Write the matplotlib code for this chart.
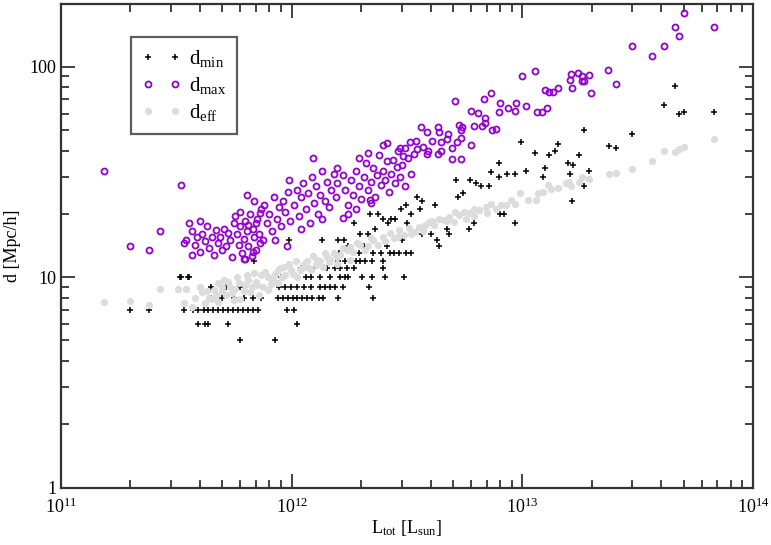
import numpy as np
import matplotlib
matplotlib.use('Agg')
import matplotlib.pyplot as plt
from matplotlib.ticker import LogLocator, FuncFormatter, NullFormatter

plt.rcParams['font.family'] = ['Liberation Serif', 'DejaVu Serif']
plt.rcParams['mathtext.fontset'] = 'custom'
plt.rcParams['mathtext.rm'] = 'Liberation Serif'
plt.rcParams['mathtext.it'] = 'Liberation Serif:italic'

# luminosities in units of 1e12 L_sun, distances in Mpc/h
Lmax = [0.154, 0.20, 0.24, 0.27, 0.33, 0.34, 0.36, 0.37, 0.39, 0.40,
        0.35, 0.37, 0.38, 0.40, 0.41, 0.42, 0.43, 0.44, 0.45, 0.46, 0.47, 0.48, 0.49, 0.50,
        0.51, 0.52, 0.53, 0.54, 0.55, 0.56,
        0.57, 0.58, 0.59, 0.60, 0.61, 0.62, 0.63, 0.64, 0.65, 0.66, 0.67, 0.68, 0.69, 0.70,
        0.71, 0.72, 0.73, 0.74, 0.60, 0.65, 0.70, 0.75, 0.62, 0.68,
        0.76, 0.78, 0.80, 0.82, 0.84, 0.86, 0.88, 0.90, 0.92, 0.94, 0.96, 0.98, 0.85, 0.95,
        0.97, 0.64, 0.69, 0.73, 0.63,
        1.02, 1.05, 1.08, 1.10, 1.12, 1.15, 1.18, 1.20, 1.22, 1.25, 1.28, 1.30, 1.33, 1.36,
        1.39, 1.42, 1.45, 1.48, 1.52, 1.55, 1.58, 1.24, 1.57, 1.67, 1.10, 1.35, 1.67,
        1.70, 1.75, 1.80, 1.85, 1.90, 1.95, 2.00, 2.05, 2.10, 2.15, 2.20, 2.25, 2.30, 2.35,
        2.40, 2.45, 2.50, 2.55, 2.60, 2.65, 2.70, 2.75, 2.80, 2.85, 2.90, 2.95, 3.00, 3.05,
        3.10, 3.20, 3.25, 3.30, 3.40, 3.45, 2.58, 2.48, 2.95, 3.10, 1.90, 2.20, 1.75, 2.18,
        1.95, 2.15,
        3.65, 3.85, 4.30, 4.35, 4.75, 4.70, 5.20, 5.40, 4.45, 4.05, 6.00, 3.70, 3.90, 3.50,
        4.45, 4.95, 4.30, 4.95, 5.45, 3.85,
        5.10, 6.00, 6.40, 6.90, 6.90, 6.15, 6.70, 7.40, 7.70, 5.30, 5.50, 5.40, 7.35, 6.85,
        8.00, 9.40, 10.4, 8.70, 7.95, 9.30, 11.6, 12.2, 12.8, 10.0, 11.4, 12.6, 13.1, 13.6,
        14.3, 16.1, 16.4, 16.2, 17.4, 18.2, 18.2, 19.5, 18.5, 19.8, 23.5, 25.5, 30.0, 36.5,
        41.0, 46.0, 48.0, 50.0, 68.0]
dmax = [32.0, 14.0, 13.5, 16.5, 27.5, 14.5, 18.0, 12.8, 15.5, 18.5,
        15.0, 16.5, 14.2, 13.2, 16.0, 14.8, 17.5, 13.8, 15.6, 12.8, 16.8, 14.5, 15.5, 13.5,
        17.0, 14.0, 16.2, 15.0, 12.5, 18.0,
        19.5, 16.0, 14.3, 17.5, 13.0, 15.2, 18.5, 16.5, 14.0, 20.0, 12.6, 17.0, 15.5, 13.5,
        19.0, 16.0, 14.5, 21.0, 20.5, 17.8, 18.0, 15.0, 12.2, 13.2,
        22.0, 18.0, 20.0, 16.5, 24.0, 19.0, 21.5, 17.5, 23.0, 20.5, 25.5, 18.5, 15.0, 14.0,
        29.0, 24.6, 23.0, 20.2, 12.2,
        22.0, 26.0, 19.5, 24.0, 28.0, 21.0, 25.0, 18.0, 30.0, 22.5, 27.0, 20.0, 24.5, 32.0,
        23.0, 28.5, 21.5, 26.0, 31.0, 24.0, 28.0, 36.8, 33.0, 30.5, 17.0, 19.0, 19.1,
        26.0, 22.0, 29.0, 24.5, 32.0, 27.0, 23.5, 30.0, 35.0, 26.0, 28.5, 33.0, 24.0, 30.5,
        38.0, 27.5, 32.0, 29.0, 35.5, 25.5, 31.0, 36.0, 28.0, 33.5, 40.0, 30.0, 34.0, 37.5,
        27.0, 36.8, 44.0, 31.0, 38.5, 44.5, 43.5, 42.5, 41.0, 41.0, 21.0, 22.5, 20.0, 23.2,
        37.0, 39.0,
        51.5, 49.0, 51.5, 49.0, 48.0, 45.5, 44.0, 46.0, 44.0, 44.5, 42.5, 41.5, 40.0, 40.5,
        40.0, 41.0, 38.5, 36.5, 36.5, 38.5,
        68.5, 62.0, 60.5, 57.0, 54.0, 52.5, 52.5, 50.0, 50.5, 53.0, 52.0, 50.0, 75.0, 70.0,
        67.5, 67.5, 65.0, 64.0, 61.0, 61.5, 61.0, 61.0, 64.0, 90.0, 96.0, 78.0, 76.0, 76.0,
        79.0, 87.0, 79.0, 92.0, 93.0, 90.0, 86.0, 91.0, 86.0, 75.5, 97.0, 83.0, 126.0, 113.0,
        126.0, 155.0, 140.0, 180.0, 155.0]

Lmin = [0.20, 0.24, 0.33, 0.36, 0.34,
        # d = 10
        0.327, 0.354, 1.06, 1.15, 1.21, 1.33, 1.47, 1.62, 1.70, 1.76, 2.02, 2.23, 2.53, 3.08,
        0.80, 0.90,
        # d = 9
        0.445, 0.88, 0.94, 0.99, 1.05, 1.13, 1.21, 1.33, 1.40, 1.47, 1.54, 1.67, 2.16,
        0.52, 0.60, 0.75,
        # d = 8
        0.445, 0.736, 0.87, 0.915, 0.96, 1.01, 1.06, 1.11, 1.17, 1.23, 1.31, 1.37, 1.59, 2.25,
        0.50, 0.56, 0.62, 0.68,
        # d = 7
        0.375, 0.394, 0.415, 0.436, 0.458, 0.48, 0.505, 0.53, 0.557, 0.585, 0.616, 0.647,
        0.68, 0.715, 0.95, 1.02,
        # d = 6
        0.394, 0.42, 0.436, 0.53, 1.06,
        # d = 5
        0.60, 0.85,
        # d = 11
        1.42, 1.54, 1.62, 1.74, 1.86, 2.48, 1.10, 1.25,
        # d = 12
        0.69, 1.59, 1.70, 1.79, 1.90, 1.98, 2.08, 2.23, 2.48, 1.30, 1.45,
        # d = 13
        2.25, 2.45, 2.66, 2.79, 2.93, 3.13, 3.30, 1.60, 1.95,
        # d = 14 .. 25
        4.36, 1.75, 2.05, 2.60,
        0.97, 1.36, 1.59, 1.69, 4.27, 3.00,
        1.98, 2.14, 3.68, 4.03, 4.81, 4.72, 5.86, 2.30,
        1.86, 2.61, 3.16, 6.15, 9.3, 2.48, 2.69, 2.80, 2.18, 2.37, 3.30, 8.0, 8.3,
        2.99, 3.60, 3.13, 4.19, 3.51, 5.26, 5.52, 3.68,
        # upper part
        5.15, 5.92, 6.33, 6.65, 7.14, 7.35, 7.96, 7.96, 8.55, 9.3, 9.9, 10.4, 11.3, 12.3,
        12.6, 13.0, 13.9, 14.3, 15.8, 16.6, 17.6, 18.5, 19.5, 18.5, 16.4, 16.1,
        23.8, 25.5, 30.0, 41.0, 46.0, 48.0, 50.0, 68.0]
dmin = [7, 7, 10, 10, 7,
        10, 10, 10, 10, 10, 10, 10, 10, 10, 10, 10, 10, 10, 10,
        10, 10,
        9, 9, 9, 9, 9, 9, 9, 9, 9, 9, 9, 9, 9,
        9, 9, 9,
        8, 8, 8, 8, 8, 8, 8, 8, 8, 8, 8, 8, 8, 8,
        8, 8, 8, 8,
        7, 7, 7, 7, 7, 7, 7, 7, 7, 7, 7, 7,
        7, 7, 7, 7,
        6, 6, 6, 6, 6,
        5, 5,
        11, 11, 11, 11, 11, 11, 11, 11,
        12, 12, 12, 12, 12, 12, 12, 12, 12, 12, 12,
        13, 13, 13, 13, 13, 13, 13, 13, 13,
        14, 14, 14, 14,
        15, 15, 15, 15, 15, 15,
        16, 16, 16, 16, 16, 17, 17, 17,
        18, 18, 18, 18, 18, 19, 19, 19, 20, 20, 20, 20, 20,
        21, 21, 22, 22, 24, 24, 25, 23,
        29, 29, 28, 27, 27, 31.5, 35, 30, 31, 31, 44, 32, 39, 30,
        33, 38, 40, 43, 35, 34, 38, 50, 32, 27, 23, 31,
        42, 41, 48, 66, 81, 60, 61, 61]

Leff = [0.154, 0.20, 0.24, 0.27, 0.32, 0.35, 0.34,
        0.37, 0.38, 0.41, 0.42, 0.44, 0.46, 0.48, 0.48, 0.53, 0.55, 0.56, 0.58, 0.60, 0.65,
        0.67, 0.72, 0.74, 0.79, 0.79, 0.87, 0.87, 0.93, 0.99, 1.06, 1.13, 1.21, 1.29, 1.37,
        1.42, 1.57, 1.57, 1.74, 1.79,
        0.50, 0.63, 0.70, 0.83, 0.94, 1.09, 1.27, 1.47, 0.52, 0.45,
        0.40, 0.43, 0.47, 0.50, 0.51, 0.54, 0.57, 0.59, 0.62, 0.64, 0.66, 0.69, 0.71, 0.75,
        0.77, 0.81, 0.85, 0.89, 0.91, 0.97, 1.01, 1.04, 1.11, 1.16, 1.19, 1.24, 1.33, 1.39,
        1.45, 1.52, 1.62, 1.67, 1.85, 1.92, 2.15, 2.20, 2.55, 2.90, 3.30, 3.70, 4.05, 4.70,
        5.10, 5.70, 6.20, 7.00,
        1.79, 1.98, 2.25, 2.48, 2.66, 2.93, 3.24, 3.58, 3.95, 4.36, 4.81, 5.31, 5.86, 6.47,
        6.94, 7.35, 7.7, 8.1, 8.9, 9.8, 10.6, 11.5, 11.7, 12.3, 12.9, 13.3,
        2.08, 2.37, 2.79, 3.08, 3.41, 3.77, 4.15, 4.57, 5.04, 5.58, 6.15, 8.5, 9.3,
        14.3, 16.0, 16.2, 17.6, 18.2, 19.5, 23.8, 25.5, 30.0, 36.5, 41.0, 46.0, 48.0, 50.0,
        68.0, 15.5]
deff = [7.6, 7.7, 7.4, 8.8, 8.8, 8.8, 7.5,
        7.2, 8.0, 8.5, 7.5, 8.0, 8.7, 9.4, 7.6, 9.5, 8.4, 7.8, 10.0, 7.9, 9.7,
        9.0, 8.2, 10.2, 10.0, 8.7, 10.8, 9.4, 11.2, 10.8, 10.0, 11.6, 10.8, 12.1, 11.2,
        12.5, 12.5, 11.6, 13.5, 12.1,
        9.0, 9.2, 9.5, 9.7, 10.2, 10.8, 11.4, 12.1, 8.2, 7.9,
        9.0, 8.6, 8.2, 8.6, 9.7, 9.0, 8.8, 9.4, 8.6, 10.2, 8.5, 10.5, 9.2, 9.0,
        10.6, 9.3, 10.4, 11.0, 10.0, 11.5, 10.4, 11.9, 11.0, 12.0, 11.1, 12.6, 11.9, 13.0,
        11.8, 13.0, 12.8, 13.8, 13.2, 14.6, 14.0, 15.4, 14.8, 15.5, 16.0, 16.6, 18.5, 18.4,
        20.5, 19.0, 21.0, 20.3,
        13.9, 14.2, 15.0, 15.5, 16.2, 16.7, 17.1, 17.3, 18.2, 19.0, 19.3, 19.7, 20.2, 20.9,
        21.5, 22.4, 21.2, 22.0, 23.4, 25.0, 23.4, 23.4, 25.0, 25.3, 27.4, 26.3,
        13.5, 14.2, 15.3, 15.8, 16.4, 17.7, 17.7, 18.6, 18.2, 20.4, 19.5, 22.0, 22.4,
        26.5, 28.3, 27.0, 28.3, 30.0, 29.3, 31.0, 31.4, 32.6, 35.7, 39.8, 39.3, 40.8, 41.5,
        45.6, 28.0]

fig = plt.figure(figsize=(7.71, 5.45), dpi=100)
ax = fig.add_axes([0.0791, 0.1055, 0.8975, 0.888])

ax.plot(np.array(Lmin) * 1e12, dmin, ls='none', marker='+', ms=5, mew=1.1,
        color='black', label=r'd$_{\rm min}$')
ax.plot(np.array(Lmax) * 1e12, dmax, ls='none', marker='o', ms=4.3, mew=1.3,
        mfc='none', mec='#9400d3', label=r'd$_{\rm max}$')
ax.plot(np.array(Leff) * 1e12, deff, ls='none', marker='o', ms=5.2, mew=0,
        color='#dcdcdc', label=r'd$_{\rm eff}$')

ax.set_xscale('log')
ax.set_yscale('log')
ax.set_xlim(1e11, 1e14)
ax.set_ylim(1, 200)

ax.yaxis.set_major_formatter(FuncFormatter(lambda v, p: '%g' % v))
ax.yaxis.set_minor_formatter(NullFormatter())
ax.xaxis.set_minor_locator(LogLocator(base=10, subs=np.arange(2, 10)))
ax.yaxis.set_minor_locator(LogLocator(base=10, subs=np.arange(2, 10)))

ax.tick_params(which='both', direction='in', top=True, right=True,
               labelsize=13, width=1.2, color='#222222')
ax.tick_params(axis='x', which='major', pad=7)
ax.tick_params(which='major', length=10)
ax.tick_params(which='minor', length=6)
for s in ax.spines.values():
    s.set_linewidth(1.6)
    s.set_color('#333333')

ax.set_xlabel(r'L$_{\rm tot}$ [L$_{\rm sun}$]', fontsize=13, labelpad=1)
ax.set_ylabel('d [Mpc/h]', fontsize=13)
ax.yaxis.set_label_coords(-0.058, 0.5)

leg = ax.legend(loc='upper left', bbox_to_anchor=(0.101, 0.93), borderaxespad=0,
                numpoints=2, fontsize=15, handlelength=1.9, handletextpad=0.4,
                labelspacing=0.3, markerscale=1.0, fancybox=False,
                borderpad=0.5)
leg.get_frame().set_edgecolor('#333333')
leg.get_frame().set_linewidth(1.6)

fig.savefig('out.png', dpi=100)
